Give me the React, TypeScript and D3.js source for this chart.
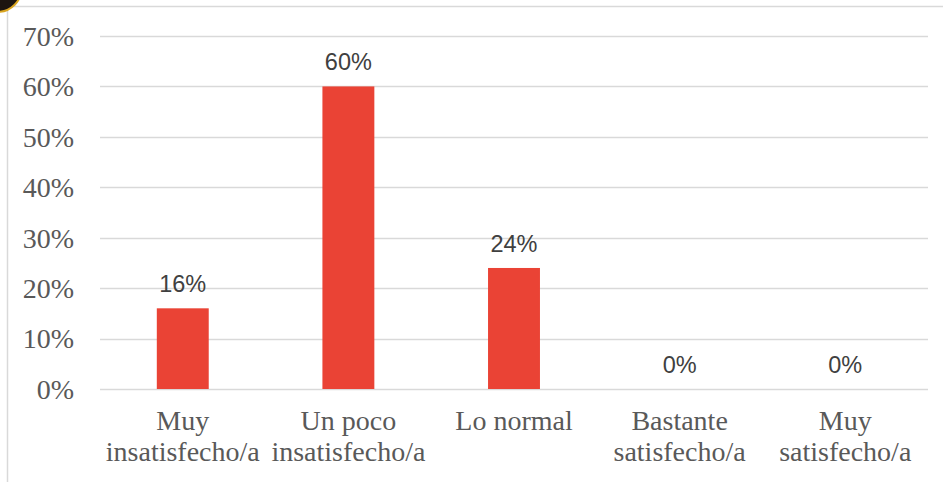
import { useEffect, useRef } from 'react';
import * as d3 from 'd3';

const categories = [
  ['Muy', 'insatisfecho/a'],
  ['Un poco', 'insatisfecho/a'],
  ['Lo normal'],
  ['Bastante', 'satisfecho/a'],
  ['Muy', 'satisfecho/a'],
];
const values = [0.16, 0.6, 0.24, 0, 0];
const yTicks = [0, 0.1, 0.2, 0.3, 0.4, 0.5, 0.6, 0.7];

const W = 944;
const H = 482;

export default function App() {
  const svgRef = useRef<SVGSVGElement>(null);

  useEffect(() => {
    if (!svgRef.current) return;
    const svg = d3.select(svgRef.current);
    svg.selectAll('*').remove();

    const plot = { left: 100, right: 928, top: 36, bottom: 389 };

    const x = d3
      .scaleBand<number>()
      .domain(values.map((_, i) => i))
      .range([plot.left, plot.right])
      .paddingInner(0.6865)
      .paddingOuter(0.343);

    const y = d3.scaleLinear().domain([0, 0.7]).range([plot.bottom, plot.top]);

    // frame
    svg.append('rect').attr('width', W).attr('height', H).attr('fill', '#fff');
    svg
      .append('path')
      .attr('d', `M7.5,${H} V6.5 H943`)
      .attr('fill', 'none')
      .attr('stroke', '#d9d9d9')
      .attr('stroke-width', 1.5);

    // corner blob
    svg
      .append('circle')
      .attr('cx', -3)
      .attr('cy', -13)
      .attr('r', 25)
      .attr('fill', '#1c1510')
      .attr('stroke', '#d9a520')
      .attr('stroke-width', 2);

    // ── Gridlines ──
    svg
      .selectAll('line.grid')
      .data(yTicks)
      .enter()
      .append('line')
      .attr('class', 'grid')
      .attr('x1', plot.left)
      .attr('x2', plot.right)
      .attr('y1', (d) => Math.round(y(d)) + 0.5)
      .attr('y2', (d) => Math.round(y(d)) + 0.5)
      .attr('stroke', '#d9d9d9')
      .attr('stroke-width', 1.5);

    // ── Y tick labels ──
    svg
      .selectAll('text.ytick')
      .data(yTicks)
      .enter()
      .append('text')
      .attr('class', 'ytick')
      .attr('x', 74)
      .attr('y', (d) => y(d))
      .attr('dy', '0.35em')
      .attr('text-anchor', 'end')
      .attr('font-family', '"Liberation Serif", "Times New Roman", serif')
      .attr('font-size', '28px')
      .attr('fill', '#595959')
      .text((d) => d3.format('.0%')(d));

    // ── Bars ──
    svg
      .selectAll('rect.bar')
      .data(values)
      .enter()
      .append('rect')
      .attr('class', 'bar')
      .attr('x', (_, i) => x(i)!)
      .attr('y', (d) => y(d))
      .attr('width', x.bandwidth())
      .attr('height', (d) => y(0) - y(d))
      .attr('fill', '#ea4335');

    // ── Data labels ──
    svg
      .selectAll('text.label')
      .data(values)
      .enter()
      .append('text')
      .attr('class', 'label')
      .attr('x', (_, i) => x(i)! + x.bandwidth() / 2)
      .attr('y', (d) => y(d) - 16)
      .attr('text-anchor', 'middle')
      .attr('font-family', '"Liberation Sans", Arial, sans-serif')
      .attr('font-size', '23.5px')
      .attr('fill', '#404040')
      .text((d) => d3.format('.0%')(d));

    // ── Category labels ──
    const cat = svg
      .selectAll('text.cat')
      .data(categories)
      .enter()
      .append('text')
      .attr('class', 'cat')
      .attr('text-anchor', 'middle')
      .attr('font-family', '"Liberation Serif", "Times New Roman", serif')
      .attr('font-size', '28px')
      .attr('fill', '#595959');

    cat
      .selectAll('tspan')
      .data((d, i) => d.map((t) => ({ t, i })))
      .enter()
      .append('tspan')
      .attr('x', (d) => x(d.i)! + x.bandwidth() / 2)
      .attr('y', (_, j) => 430 + j * 31)
      .text((d) => d.t);
  }, []);

  return (
    <div style={{ position: 'fixed', left: 0, top: 0 }}>
      <svg ref={svgRef} width={W} height={H} style={{ display: 'block' }} />
    </div>
  );
}
